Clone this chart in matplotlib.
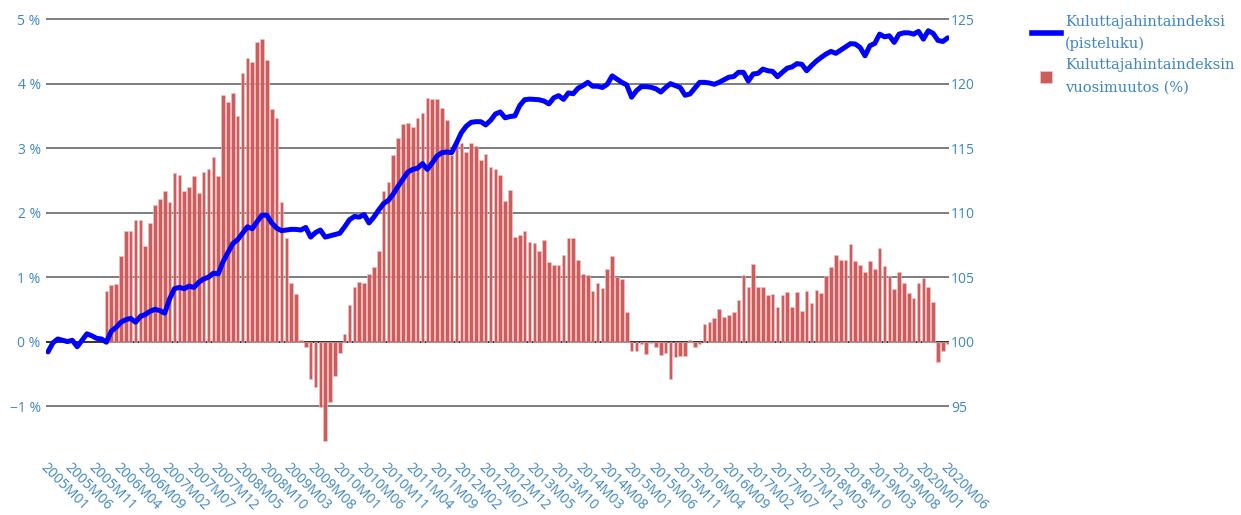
import numpy as np
import matplotlib
matplotlib.use("Agg")
import matplotlib.pyplot as plt
from matplotlib.lines import Line2D

# ---- data ----
months = [f"{2005 + k // 12}M{k % 12 + 1:02d}" for k in range(186)]

cpi_index = [
    99.2, 99.9, 100.2, 100.1, 100.0, 100.1, 99.6, 100.1, 100.6, 100.45, 100.25, 100.2,
    99.95, 100.8, 101.1, 101.5, 101.7, 101.8, 101.5, 101.95, 102.1, 102.35, 102.5, 102.4,
    102.2, 103.3, 104.1, 104.2, 104.1, 104.3, 104.2, 104.6, 104.85, 105.0, 105.3, 105.25,
    106.2, 106.9, 107.6, 107.9, 108.4, 108.9, 108.75, 109.3, 109.8, 109.8, 109.2, 108.8,
    108.6, 108.65, 108.7, 108.7, 108.65, 108.85, 108.1, 108.45, 108.65, 108.1, 108.2, 108.3,
    108.4, 108.9, 109.45, 109.7, 109.65, 109.85, 109.2, 109.65, 110.2, 110.7, 110.95, 111.45,
    112.05, 112.6, 113.15, 113.35, 113.45, 113.8, 113.35, 113.85, 114.4, 114.65, 114.7, 114.65,
    115.4, 116.2, 116.7, 117.0, 117.05, 117.05, 116.8, 117.15, 117.65, 117.8, 117.35, 117.45,
    117.5, 118.3, 118.75, 118.8, 118.78, 118.75, 118.65, 118.43, 118.9, 119.07, 118.78, 119.28,
    119.22, 119.65, 119.85, 120.1, 119.8, 119.8, 119.7, 119.95, 120.6, 120.35, 120.1, 119.9,
    118.95, 119.45, 119.77, 119.77, 119.72, 119.6, 119.35, 119.7, 120.0, 119.85, 119.7, 119.1,
    119.2, 119.65, 120.1, 120.1, 120.05, 119.95, 120.1, 120.3, 120.5, 120.55, 120.88, 120.88,
    120.2, 120.75, 120.8, 121.13, 121.0, 120.95, 120.54, 120.88, 121.2, 121.3, 121.55, 121.5,
    121.0, 121.4, 121.75, 122.04, 122.3, 122.5, 122.35, 122.6, 122.86, 123.1, 123.07, 122.8,
    122.16, 122.94, 123.12, 123.84, 123.63, 123.71, 123.2, 123.84, 123.94, 123.94, 123.84, 124.05,
    123.45, 124.1, 123.9, 123.35, 123.27, 123.55,
]

annual_change = [np.nan] * 12 + [
    0.79, 0.88, 0.89, 1.32, 1.72, 1.71, 1.88, 1.89, 1.48, 1.84, 2.12, 2.21,
    2.33, 2.16, 2.62, 2.58, 2.34, 2.39, 2.56, 2.31, 2.63, 2.68, 2.86, 2.57,
    3.83, 3.71, 3.85, 3.50, 4.16, 4.39, 4.34, 4.65, 4.70, 4.36, 3.60, 3.46,
    2.17, 1.60, 0.91, 0.74, 0.02, -0.09, -0.58, -0.71, -1.02, -1.54, -0.93, -0.54,
    -0.18, 0.11, 0.56, 0.85, 0.93, 0.91, 1.05, 1.15, 1.40, 2.34, 2.48, 2.90,
    3.16, 3.37, 3.39, 3.32, 3.47, 3.55, 3.78, 3.76, 3.76, 3.62, 3.44, 2.90,
    3.10, 3.08, 2.94, 3.08, 3.04, 2.82, 2.91, 2.71, 2.68, 2.58, 2.18, 2.35,
    1.62, 1.66, 1.72, 1.54, 1.53, 1.41, 1.58, 1.23, 1.18, 1.18, 1.35, 1.61,
    1.61, 1.27, 1.05, 1.04, 0.78, 0.91, 0.83, 1.13, 1.33, 1.00, 0.97, 0.46,
    -0.14, -0.14, -0.04, -0.20, -0.02, -0.09, -0.21, -0.17, -0.58, -0.24, -0.23, -0.22,
    0.02, -0.08, -0.03, 0.27, 0.30, 0.36, 0.51, 0.38, 0.41, 0.46, 0.65, 1.03,
    0.85, 1.21, 0.84, 0.84, 0.72, 0.74, 0.53, 0.73, 0.77, 0.54, 0.77, 0.48,
    0.79, 0.60, 0.80, 0.75, 1.01, 1.15, 1.35, 1.26, 1.26, 1.52, 1.25, 1.18,
    1.08, 1.25, 1.12, 1.45, 1.17, 1.02, 0.82, 1.08, 0.91, 0.75, 0.67, 0.91,
    0.99, 0.85, 0.61, -0.31, -0.15, -0.03,
]

left_ticks = [-1, 0, 1, 2, 3, 4, 5]
left_labels = ["\u22121 %", "0 %", "1 %", "2 %", "3 %", "4 %", "5 %"]
right_ticks = [95, 100, 105, 110, 115, 120, 125]
label_index = list(range(0, 186, 5))

line_name = "Kuluttajahintaindeksi\n(pisteluku)"
bar_name = "Kuluttajahintaindeksin\nvuosimuutos (%)"

# ---- style ----
TICK_COLOR = "#3f87c2"
GRID_COLOR = "#5a5a5a"
BAR_COLOR = "#cd5c5c"
LINE_COLOR = "#0000ff"

W, H = 1241, 515
fig = plt.figure(figsize=(W / 100, H / 100), dpi=100)
left_px, right_px, top_px, bot_px = 46.3, 949.4, 14, 457
ax = fig.add_axes([left_px / W, 1 - bot_px / H, (right_px - left_px) / W, (bot_px - top_px) / H])
ax2 = ax.twinx()

x = np.arange(len(months))
ylo, yhi = -1.79, 5.08
ax.set_xlim(-0.35, 185.35)
ax.set_ylim(ylo, yhi)
ax2.set_ylim(100 + 5 * ylo, 100 + 5 * yhi)

for v in left_ticks:
    ax.axhline(v, color="#333333" if v == 0 else GRID_COLOR, lw=1.4 if v == 0 else 1.1, zorder=0)

ax.bar(x, annual_change, width=0.74, color=BAR_COLOR, edgecolor="#f2c6c6", linewidth=0.4, zorder=2)
ax2.plot(x, cpi_index, color=LINE_COLOR, lw=3.6, solid_joinstyle="round", solid_capstyle="round", zorder=3)

for a in (ax, ax2):
    for s in a.spines.values():
        s.set_visible(False)

ax.set_yticks(left_ticks)
ax.set_yticklabels(left_labels)
ax2.set_yticks(right_ticks)
ax2.set_yticklabels([str(t) for t in right_ticks])
ax.tick_params(axis="y", length=0, pad=4, labelsize=10, labelcolor=TICK_COLOR)
ax2.tick_params(axis="y", length=0, pad=1, labelsize=10, labelcolor=TICK_COLOR)
for lab in ax.get_yticklabels() + ax2.get_yticklabels():
    lab.set_family("Open Sans")

ax.set_xticks(label_index)
ax.set_xticklabels([months[k] for k in label_index], rotation=-45, ha="left", va="top",
                   rotation_mode="anchor", family="Open Sans", fontsize=10, color=TICK_COLOR)
ax.tick_params(axis="x", length=0, pad=2)

handles = [
    Line2D([0], [0], color=LINE_COLOR, lw=4),
    Line2D([0], [0], color=BAR_COLOR, lw=0, marker="s", markersize=9, markeredgecolor="#f2c6c6", markeredgewidth=0.5),
]
leg = fig.legend(handles, [line_name, bar_name], loc="upper left",
                 bbox_to_anchor=(1026 / W, 1 - 9 / H), frameon=False,
                 prop={"family": "DejaVu Serif", "size": 10.5}, handlelength=2.0,
                 handletextpad=0.3, labelspacing=0.5, borderaxespad=0)
for t in leg.get_texts():
    t.set_color(TICK_COLOR)
    t.set_linespacing(1.7)

fig.savefig("out.png", dpi=100)
